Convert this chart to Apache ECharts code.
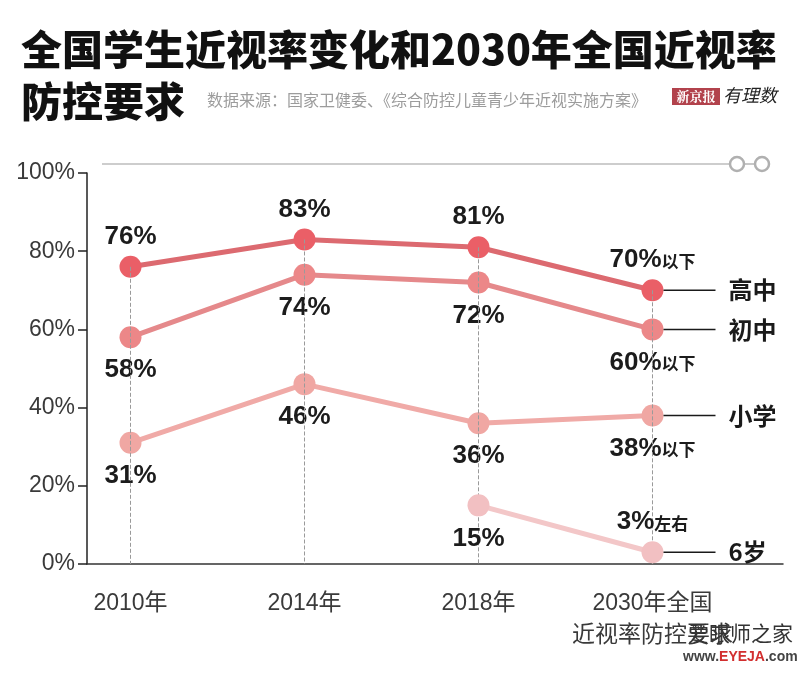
<!DOCTYPE html>
<html>
<head>
<meta charset="utf-8">
<script src="https://cdn.jsdelivr.net/npm/echarts@6/dist/echarts.min.js"></script>
<style>
  html, body { margin: 0; padding: 0; background: #fff; }
  #chart { width: 800px; height: 678px; }
</style>
</head>
<body>
<div id="chart"></div>
<script>
// 数据
const years = ['2010年', '2014年', '2018年', '2030年全国\n近视率防控要求']
const seriesNames = ['高中', '初中', '小学', '6岁']
const highSchool = [76, 83, 81, 70]
const juniorHigh = [58, 74, 72, 60]
const primary = [31, 46, 36, 38]
const age6 = [null, null, 15, 3]
const suffixes = [
  ['', '', '', '以下'],
  ['', '', '', '以下'],
  ['', '', '', '以下'],
  ['', '', '', '左右']
]
const yTicks = [0, 20, 40, 60, 80, 100]

const FONT = "'Liberation Sans', 'Noto Sans CJK SC', sans-serif"
const CJK = "'Noto Sans CJK SC', sans-serif"

// 两个年份之间插入空位，让刻度间距是带宽的两倍
const slots = []
years.forEach((y, i) => {
  slots.push(y)
  slots.push('')
})
const spread = arr => {
  const out = []
  arr.forEach((v, i) => {
    out.push(v)
    if (i < arr.length - 1) out.push(null)
  })
  return out
}

const colors = [
  { line: '#dc6a70', dot: '#ea5f67' },
  { line: '#e5898b', dot: '#ec8788' },
  { line: '#f0aaa7', dot: '#f0a7a3' },
  { line: '#f3c7c8', dot: '#f2c0c2' }
]
const labelPos = [
  ['top', 'top', 'top', 'top'],
  ['bottom', 'bottom', 'bottom', 'bottom'],
  ['bottom', 'bottom', 'bottom', 'bottom'],
  ['bottom', 'bottom', 'bottom', 'top']
]

function makeSeries(name, values, idx) {
  const data = spread(values).map((v, i) => {
    if (v === null) return null
    const c = i / 2
    return {
      value: v,
      label: {
        position: labelPos[idx][c],
        distance: labelPos[idx][c] === 'top' ? 6 : 9
      }
    }
  })
  const s = {
    name: name,
    type: 'line',
    data: data,
    connectNulls: true,
    symbol: 'circle',
    symbolSize: 22,
    lineStyle: { width: 5, color: colors[idx].line },
    itemStyle: { color: colors[idx].dot },
    z: 2 + idx,
    label: {
      show: true,
      formatter: p => '{v|' + p.value + '%}{s|' + suffixes[idx][p.dataIndex / 2] + '}',
      rich: {
        v: { fontFamily: FONT, fontSize: 26, fontWeight: 'bold', color: '#1c1c1c' },
        s: { fontFamily: CJK, fontSize: 17, fontWeight: 'bold', color: '#1c1c1c', padding: [3, 0, 0, 0] }
      }
    },
    endLabel: {
      show: true,
      distance: 11,
      formatter: '{l|}{n|' + name + '}',
      rich: {
        l: { width: 52, height: 1.5, backgroundColor: '#1a1a1a' },
        n: { fontFamily: CJK, fontSize: 24, fontWeight: 'bold', color: '#1a1a1a', padding: [0, 0, 0, 13] }
      }
    }
  }
  if (idx === 0) {
    // 虚线竖线
    s.markLine = {
      silent: true,
      symbol: 'none',
      label: { show: false },
      lineStyle: { type: 'dashed', color: '#9a9a9a', width: 1 },
      data: values.map((v, c) => [
        { coord: [c * 2, v] },
        { coord: [c * 2, 0] }
      ])
    }
  }
  return s
}

const chart = echarts.init(document.getElementById('chart'))
chart.setOption({
  animation: false,
  backgroundColor: '#fff',
  title: [{
    text: '全国学生近视率变化和2030年全国近视率\n防控要求',
    left: 16,
    top: 18,
    textStyle: {
      fontFamily: CJK,
      fontSize: 41,
      fontWeight: 900,
      lineHeight: 52,
      color: '#111'
    }
  }, {
    text: '数据来源：国家卫健委、《综合防控儿童青少年近视实施方案》',
    left: 202,
    top: 87,
    textStyle: { fontFamily: CJK, fontSize: 16, fontWeight: 'normal', color: '#9c9c9c' }
  }],
  grid: { left: 87, right: 17, top: 173, bottom: 114 },
  xAxis: {
    type: 'category',
    data: slots,
    boundaryGap: true,
    axisLine: { lineStyle: { color: '#333', width: 1.5 } },
    axisTick: {
      alignWithLabel: true,
      length: 8,
      interval: (i, v) => v !== '',
      lineStyle: { color: '#333', width: 1.5 }
    },
    axisLabel: {
      interval: 0,
      margin: 24,
      fontFamily: FONT,
      fontSize: 23,
      lineHeight: 32,
      color: '#3a3a3a'
    }
  },
  yAxis: {
    type: 'value',
    min: yTicks[0],
    max: yTicks[yTicks.length - 1],
    interval: yTicks[1] - yTicks[0],
    splitLine: { show: false },
    axisLine: { show: true, lineStyle: { color: '#222', width: 1.5 } },
    axisTick: { show: true, length: 9, lineStyle: { color: '#222', width: 1.5 } },
    axisLabel: {
      formatter: '{value}%',
      margin: 12,
      fontFamily: FONT,
      fontSize: 23,
      color: '#3a3a3a'
    }
  },
  graphic: [
    // 顶部装饰线
    { type: 'line', shape: { x1: 102, y1: 164, x2: 729, y2: 164 }, style: { stroke: '#bdbdbd', lineWidth: 1.5 } },
    { type: 'line', shape: { x1: 744, y1: 164, x2: 755, y2: 164 }, style: { stroke: '#b5b5b5', lineWidth: 1.5 } },
    { type: 'circle', shape: { cx: 737, cy: 164, r: 7 }, style: { fill: '#fff', stroke: '#b0b0b0', lineWidth: 2.5 } },
    { type: 'circle', shape: { cx: 762, cy: 164, r: 7 }, style: { fill: '#fff', stroke: '#b0b0b0', lineWidth: 2.5 } },
    // 新京报 有理数
    { type: 'rect', shape: { x: 672, y: 88, width: 48, height: 17 }, style: { fill: '#b2424c' } },
    {
      type: 'text', x: 696, y: 96.5,
      style: { text: '新京报', fill: '#fff', font: 'bold 13px "Noto Serif CJK SC", "Noto Sans CJK SC", serif', textAlign: 'center', textVerticalAlign: 'middle' }
    },
    {
      type: 'text', x: 723, y: 95,
      style: { text: '有理数', fill: '#222', font: 'italic 18px "Noto Sans CJK SC", sans-serif', textVerticalAlign: 'middle' }
    },
    // 水印
    {
      type: 'text', x: 688, y: 633, z: 10,
      style: { text: '爱眼师之家', fill: '#333', font: '21px "Noto Sans CJK SC", sans-serif', textVerticalAlign: 'middle' }
    },
    {
      type: 'text', x: 683, y: 657, z: 10,
      style: {
        text: '{a|www.}{b|EYEJA}{a|.com}',
        textVerticalAlign: 'middle',
        rich: {
          a: { fontFamily: FONT, fontSize: 14, fontWeight: 'bold', fill: '#444', color: '#444' },
          b: { fontFamily: FONT, fontSize: 14, fontWeight: 'bold', fill: '#d22f2f', color: '#d22f2f' }
        }
      }
    }
  ],
  series: [
    makeSeries(seriesNames[0], highSchool, 0),
    makeSeries(seriesNames[1], juniorHigh, 1),
    makeSeries(seriesNames[2], primary, 2),
    makeSeries(seriesNames[3], age6, 3)
  ]
})
</script>
</body>
</html>
